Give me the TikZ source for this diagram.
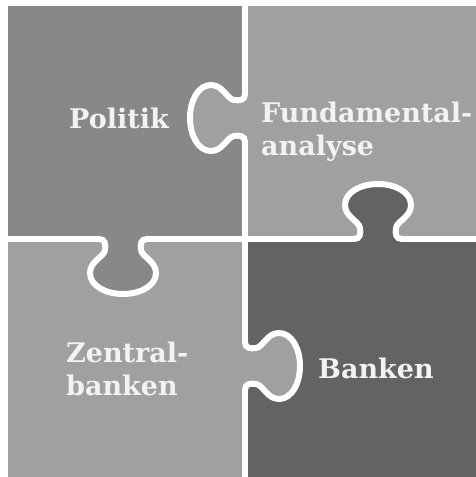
\documentclass[tikz,border=0pt]{standalone}
\usepackage{fontspec}
\setmainfont{DejaVu Serif}
\definecolor{politikgray}{HTML}{888888}
\definecolor{fundgray}{HTML}{A0A0A0}
\definecolor{zentralgray}{HTML}{A0A0A0}
\definecolor{bankengray}{HTML}{636363}
\definecolor{lettering}{HTML}{F2F2F2}

\tikzset{
  seam/.style={white, line width=6pt, line cap=round},
  piecetext/.style={text=lettering, inner sep=0pt, align=left,
                    font=\bfseries\fontsize{27}{33}\selectfont},
  knob/.pic={
    \fill[#1] (-24,0) .. controls (-18,0) and (-17,5) .. (-18,11)
                      .. controls (-19,18) and (-33,22) .. (-33,34)
                      .. controls (-33,47) and (-17,55) .. (0,55)
                      .. controls (17,55) and (33,47) .. (33,34)
                      .. controls (33,22) and (19,18) .. (18,11)
                      .. controls (17,5) and (18,0) .. (24,0)
                      -- (24,-4) -- (-24,-4) -- cycle;
    \draw[seam] (-24,0) .. controls (-18,0) and (-17,5) .. (-18,11)
                      .. controls (-19,18) and (-33,22) .. (-33,34)
                      .. controls (-33,47) and (-17,55) .. (0,55)
                      .. controls (17,55) and (33,47) .. (33,34)
                      .. controls (33,22) and (19,18) .. (18,11)
                      .. controls (17,5) and (18,0) .. (24,0);
  }
}

\begin{document}
\begin{tikzpicture}[x=1pt, y=-1pt]
  \useasboundingbox (0,0) rectangle (476,477);
  \clip (0,0) rectangle (476,477);
  \fill[white] (0,0) rectangle (476,477);
  % the four pieces
  \fill[politikgray] (8,6) rectangle (245,239);
  \fill[fundgray] (245,6) rectangle (476,239);
  \fill[zentralgray] (8,239) rectangle (245,477);
  \fill[bankengray] (245,239) rectangle (476,477);
  % knobs, each in the colour of the piece it belongs to
  \pic[rotate=-90] at (245,118) {knob=fundgray};
  \pic[rotate=180] at (378,239) {knob=bankengray};
  \pic at (123,239) {knob=politikgray};
  \pic[rotate=90] at (245,366) {knob=zentralgray};
  % straight seams between the knobs
  \draw[seam] (245,0) -- (245,94) (245,142) -- (245,342) (245,390) -- (245,480);
  \draw[seam] (8,239) -- (99,239) (147,239) -- (354,239) (402,239) -- (480,239);

  \node[piecetext, anchor=base] (politik) at (119,128) {Politik};
  \node[piecetext, anchor=base west] (fundamental) at (261,155) {Fundamental-\\analyse};
  \node[piecetext, anchor=base west] (zentral) at (66,395) {Zentral-\\banken};
  \node[piecetext, anchor=base west] (banken) at (318,378) {Banken};
\end{tikzpicture}
\end{document}
